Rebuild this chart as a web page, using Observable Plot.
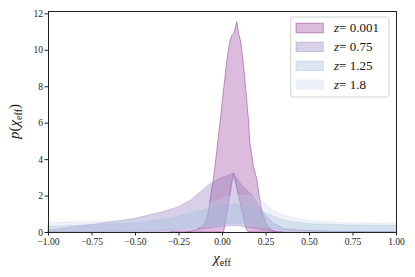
<!DOCTYPE html>
<html><head><meta charset="utf-8">
<script src="https://cdn.jsdelivr.net/npm/d3@7"></script>
<script src="https://cdn.jsdelivr.net/npm/@observablehq/plot@0.6"></script>
<style>
body{margin:0;background:#fff;}
#chart{position:relative;width:415px;height:277px;}
</style></head><body><div id="chart"></div>
<script>
// series labels and colours
const seriesLabels = ["0.001", "0.75", "1.25", "1.8"];
const seriesColors = ["#8a208a", "#7d62b2", "#87acd4", "#c6d4e8"];

// z = 0.001
const x001  = [-0.30, -0.21, -0.15, -0.10, -0.08, -0.065, -0.05, -0.039, -0.01, 0.009, 0.028, 0.047, 0.057, 0.066, 0.07, 0.085, 0.095, 0.108, 0.124, 0.139, 0.152, 0.16, 0.181, 0.2, 0.215, 0.23, 0.25, 0.28, 0.32, 0.35];
const hi001 = [0, 0, 0.1, 0.4, 1.0, 2.0, 2.9, 3.7, 6.15, 7.8, 9.45, 10.55, 10.8, 10.9, 10.95, 11.55, 10.9, 10.45, 9.1, 7.6, 6.15, 4.9, 3.6, 2.9, 1.9, 1.1, 0.5, 0.12, 0, 0];
const lo001 = [0, 0, 0, 0, 0, 0, 0, 0, 0, 0, 1.07, 2.15, 2.71, 3.22, 3.05, 2.43, 2.0, 1.46, 0.79, 0.17, 0, 0, 0, 0, 0, 0, 0, 0, 0, 0];

// z = 0.75
const x075  = [-1, -0.77, -0.5, -0.345, -0.25, -0.18, -0.125, -0.087, -0.04, 0.0, 0.066, 0.105, 0.181, 0.238, 0.296, 0.353, 0.45, 0.6, 0.8, 1];
const hi075 = [0.1, 0.38, 0.75, 1.1, 1.39, 1.76, 2.2, 2.5, 2.8, 3.0, 3.22, 2.67, 1.94, 1.03, 0.48, 0.2, 0.1, 0.05, 0.03, 0.02];
const lo075 = [0, 0, 0.01, 0.03, 0.06, 0.1, 0.15, 0.2, 0.27, 0.32, 0.35, 0.33, 0.2, 0.1, 0.05, 0.02, 0.01, 0, 0, 0];

// z = 1.25
const x125  = [-1, -0.5, -0.3, -0.15, 0, 0.07, 0.15, 0.25, 0.35, 0.5, 0.75, 1];
const hi125 = [0.3, 0.5, 0.75, 1.1, 1.45, 1.52, 1.45, 1.05, 0.65, 0.45, 0.38, 0.35];
const lo125 = [0.03, 0.06, 0.12, 0.25, 0.45, 0.5, 0.45, 0.25, 0.12, 0.06, 0.03, 0.03];

// z = 1.8
const x18  = [-1, -0.75, -0.5, -0.3, -0.2, -0.1, 0, 0.07, 0.12, 0.2, 0.25, 0.29, 0.36, 0.45, 0.55, 0.7, 1];
const hi18 = [0.53, 0.56, 0.65, 0.85, 1.05, 1.45, 1.85, 2.0, 2.0, 1.9, 1.55, 1.2, 0.9, 0.7, 0.58, 0.52, 0.47];
const lo18 = [0.1, 0.11, 0.12, 0.18, 0.22, 0.28, 0.33, 0.38, 0.37, 0.33, 0.28, 0.24, 0.2, 0.16, 0.13, 0.11, 0.1];

const xTicks = [-1, -0.75, -0.5, -0.25, 0, 0.25, 0.5, 0.75, 1];
const yTicks = [0, 2, 4, 6, 8, 10, 12];

const bands = [
  [x001, lo001, hi001],
  [x075, lo075, hi075],
  [x125, lo125, hi125],
  [x18, lo18, hi18]
].map(([xs, lo, hi], i) => xs.map((x, j) => ({x, lo: lo[j], hi: hi[j], s: seriesLabels[i]})));

const fmtX = d3.format(".2f");
const serif = "'Liberation Serif', 'DejaVu Serif', serif";

const plot = Plot.plot({
  width: 415, height: 277,
  marginLeft: 48, marginRight: 19, marginTop: 11, marginBottom: 45,
  style: {fontFamily: serif, fontSize: "9.5px", color: "#222", background: "white"},
  x: {domain: [-1, 1]},
  y: {domain: [0, 12.13]},
  marks: [
    ...bands.map((rows, i) => Plot.areaY(rows, {
      x: "x", y1: "lo", y2: "hi",
      fill: seriesColors[i], fillOpacity: 0.3,
      stroke: seriesColors[i], strokeOpacity: i === 0 ? 0.45 : 0.3, strokeWidth: 1
    })),
    Plot.axisX({ticks: xTicks, tickSize: 3.5, tickPadding: 2, tickFormat: d => fmtX(d), label: null}),
    Plot.axisY({ticks: yTicks, tickSize: 3.5, tickPadding: 2, tickFormat: d3.format("d"), label: null}),
    Plot.frame({stroke: "#222", strokeWidth: 1})
  ]
});
document.getElementById("chart").appendChild(plot);

const svg = d3.select(plot);
// x label
const xl = svg.append("text").attr("x", 222).attr("y", 263).attr("text-anchor", "middle")
  .attr("font-family", serif).attr("font-size", 15).attr("fill", "#111");
xl.append("tspan").attr("font-style", "italic").text("χ");
xl.append("tspan").attr("font-size", 10).attr("dy", 3).text("eff");

// y label
const yl = svg.append("text").attr("transform", "translate(19,121.5) rotate(-90)").attr("text-anchor", "middle")
  .attr("font-family", serif).attr("font-size", 15).attr("fill", "#111");
yl.append("tspan").attr("font-style", "italic").text("p");
yl.append("tspan").text("(");
yl.append("tspan").attr("font-style", "italic").text("χ");
yl.append("tspan").attr("font-size", 10).attr("dy", 3).text("eff");
yl.append("tspan").attr("dy", -3).text(")");

// legend
const lg = svg.append("g");
lg.append("rect").attr("x", 290.7).attr("y", 17).attr("width", 98.3).attr("height", 80).attr("rx", 2.5)
  .attr("fill", "white").attr("fill-opacity", 0.8).attr("stroke", "#d0d0d0").attr("stroke-width", 1);
seriesLabels.forEach((lab, i) => {
  const cy = 28 + i * 18.9;
  lg.append("rect").attr("x", 296).attr("y", cy - 4.75).attr("width", 27.3).attr("height", 9.5)
    .attr("fill", seriesColors[i]).attr("fill-opacity", 0.3)
    .attr("stroke", seriesColors[i]).attr("stroke-opacity", i === 0 ? 0.45 : 0.3);
  const t = lg.append("text").attr("x", 334).attr("y", cy + 4.2).attr("text-anchor", "start")
    .attr("font-family", serif).attr("font-size", 13).attr("fill", "#111");
  t.append("tspan").attr("font-style", "italic").text("z");
  t.append("tspan").text("= " + lab);
});
</script></body></html>
